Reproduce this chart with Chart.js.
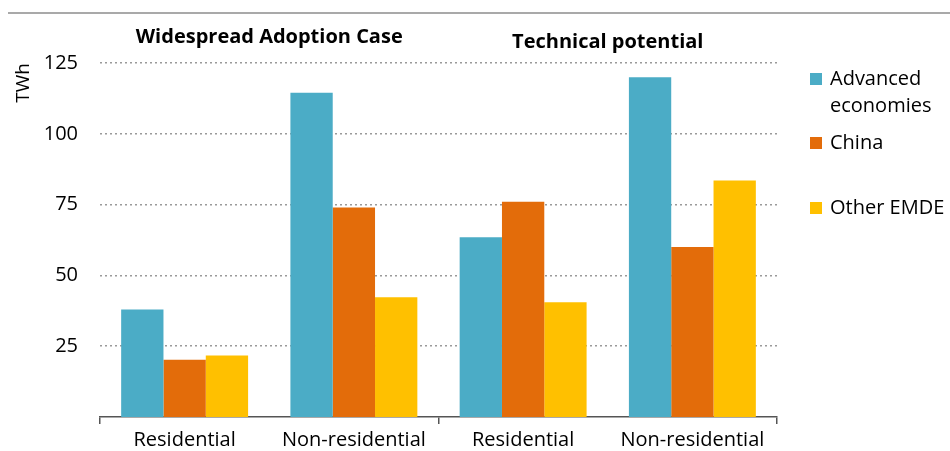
<!DOCTYPE html>
<html>
<head>
<meta charset="utf-8">
<script src="https://cdn.jsdelivr.net/npm/chart.js@4"></script>
<style>
  html, body { margin: 0; padding: 0; background: #fff; }
  #wrap { width: 950px; height: 451px; position: relative; }
</style>
</head>
<body>
<div id="wrap"><canvas id="chart"></canvas></div>
<script>
const categories = ['Residential', 'Non-residential', 'Residential', 'Non-residential'];
const scenarios = ['Widespread Adoption Case', 'Technical potential'];
const advanced = [38, 114.5, 63.5, 120];
const china = [20.2, 74, 76, 60];
const otherEmde = [21.7, 42.3, 40.5, 83.5];
const yTicks = [25, 50, 75, 100, 125];

const FONT = '"Open Sans", sans-serif';

// draws the scenario headings and the legend on the right
const extras = {
    id: 'extras',
    afterDraw(chart) {
        const ctx = chart.ctx;
        const x = chart.scales.x;
        ctx.save();

        // thin rule across the top
        ctx.strokeStyle = '#8c8c8c';
        ctx.lineWidth = 1.5;
        ctx.beginPath();
        ctx.moveTo(8, 13);
        ctx.lineTo(950, 13);
        ctx.stroke();

        ctx.fillStyle = '#000';
        ctx.font = 'bold 20px ' + FONT;
        ctx.textAlign = 'center';
        ctx.textBaseline = 'middle';
        const headY = [37, 42];
        scenarios.forEach((s, i) => {
            const cx = (x.getPixelForValue(i * 2) + x.getPixelForValue(i * 2 + 1)) / 2;
            ctx.fillText(s, cx, headY[i]);
        });

        // legend
        const entries = [
            { lines: ['Advanced', 'economies'], y: 79 },
            { lines: ['China'], y: 143 },
            { lines: ['Other EMDE'], y: 208 }
        ];
        ctx.font = '20px ' + FONT;
        ctx.textAlign = 'left';
        entries.forEach((e, i) => {
            ctx.fillStyle = chart.data.datasets[i].backgroundColor;
            ctx.fillRect(810, e.y - 6, 12, 12);
            ctx.fillStyle = '#000';
            e.lines.forEach((t, j) => ctx.fillText(t, 830, e.y + j * 27));
        });
        ctx.restore();
    }
};

new Chart(document.getElementById('chart'), {
    type: 'bar',
    data: {
        labels: categories,
        datasets: [
            { label: 'Advanced economies', data: advanced, backgroundColor: '#4BACC6' },
            { label: 'China', data: china, backgroundColor: '#E36C0A' },
            { label: 'Other EMDE', data: otherEmde, backgroundColor: '#FFC000' }
        ]
    },
    options: {
        responsive: true,
        maintainAspectRatio: false,
        animation: false,
        layout: { padding: { left: 0, right: 173, top: 63, bottom: 0 } },
        datasets: { bar: { categoryPercentage: 0.75, barPercentage: 1, borderWidth: 0 } },
        plugins: { legend: { display: false }, tooltip: { enabled: false } },
        scales: {
            x: {
                afterFit(scale) { scale.height = 33; },
                border: { display: true, color: '#555', width: 1.5 },
                grid: {
                    offset: true,
                    drawOnChartArea: false,
                    drawTicks: true,
                    tickLength: 7,
                    lineWidth: 1.5,
                    color: (c) => (c.index === undefined || c.index % 2 === 0) ? '#555' : 'rgba(0,0,0,0)'
                },
                ticks: { color: '#000', font: { family: FONT, size: 20 }, padding: 4 }
            },
            y: {
                min: 0,
                max: 125,
                afterFit(scale) { scale.width = 100; },
                afterBuildTicks(scale) { scale.ticks = yTicks.map(v => ({ value: v })); },
                border: { display: false, dash: [2, 3] },
                grid: {
                    drawTicks: false,
                    color: '#9a9a9a',
                    lineWidth: 1.5
                },
                ticks: { color: '#000', font: { family: FONT, size: 20 }, padding: 22 },
                title: {
                    display: true,
                    text: 'TWh',
                    align: 'end',
                    color: '#000',
                    font: { family: FONT, size: 19 },
                    padding: { top: 12, bottom: 0 }
                }
            }
        }
    },
    plugins: [extras]
});
</script>
</body>
</html>
